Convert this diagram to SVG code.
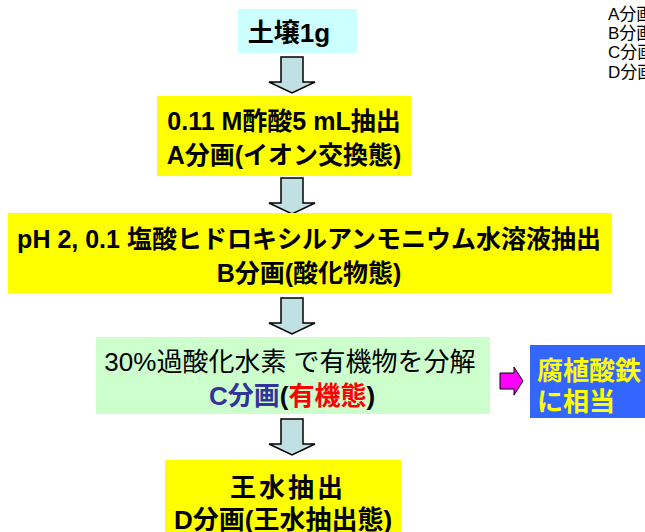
<svg xmlns="http://www.w3.org/2000/svg" width="645" height="532" viewBox="0 0 645 532">
<defs>
<style>
.t{font-family:"Liberation Sans","Noto Sans CJK JP",sans-serif;font-weight:bold;font-size:25px;fill:#000;text-anchor:middle}
.lg{font-family:"Liberation Sans","Noto Sans CJK JP",sans-serif;font-size:17px;fill:#000}
.arr{fill:#c0e0e4;stroke:#000;stroke-width:1.5}
.y{fill:#ffff00}
</style>
<path id="dn" d="M-11,0 H11 V25 H23 L0,36 L-23,25 H-11 Z"/>
</defs>
<rect width="645" height="532" fill="#fff"/>
<g id="legend">
<text class="lg" x="608" y="20">A分画</text>
<text class="lg" x="608" y="39">B分画</text>
<text class="lg" x="608" y="58">C分画</text>
<text class="lg" x="608" y="78">D分画</text>
</g>
<g id="connectors">
<use href="#dn" class="arr" x="292" y="57"/>
<use href="#dn" class="arr" x="292" y="178"/>
<use href="#dn" class="arr" x="292" y="298"/>
<use href="#dn" class="arr" x="292" y="419"/>
<path d="M500,373 H514 V367 L523,381 L514,395 V389 H500 Z" fill="#ff00ff" stroke="#000" stroke-width="1"/>
</g>
<g id="soil">
<rect x="238" y="9" width="119" height="44" fill="#ccffff"/>
<text class="t" x="289" y="42" style="font-size:26px">土壌1g</text>
</g>
<g id="A">
<rect class="y" x="157" y="96" width="254" height="80"/>
<text class="t" x="284" y="130">0.11 M酢酸5 mL抽出</text>
<text class="t" x="284" y="164">A分画(イオン交換態)</text>
</g>
<g id="B">
<rect class="y" x="8" y="213" width="604" height="80"/>
<text class="t" x="309" y="248">pH 2, 0.1 塩酸ヒドロキシルアンモニウム水溶液抽出</text>
<text class="t" x="309" y="282">B分画(酸化物態)</text>
</g>
<g id="C">
<rect x="96" y="337" width="394" height="77" fill="#ccffcc"/>
<text class="t" x="290" y="371" style="font-weight:normal;font-size:26px">30%過酸化水素 で有機物を分解</text>
<text class="t" x="292" y="405" style="font-size:26px"><tspan fill="#333399">C分画</tspan>(<tspan fill="#ff0000">有機態</tspan>)</text>
</g>
<g id="humic">
<rect x="530" y="345" width="115" height="73" fill="#3366ff"/>
<text class="t" x="537" y="380" style="text-anchor:start;fill:#ffff00;font-size:26px">腐植酸鉄</text>
<text class="t" x="537" y="411" style="text-anchor:start;fill:#ffff00;font-size:26px">に相当</text>
</g>
<g id="D">
<rect class="y" x="165" y="460" width="236" height="72"/>
<text class="t" x="288" y="497" style="font-size:26px;letter-spacing:3px">王水抽出</text>
<text class="t" x="283" y="529" style="font-size:26px">D分画(王水抽出態)</text>
</g>
</svg>
